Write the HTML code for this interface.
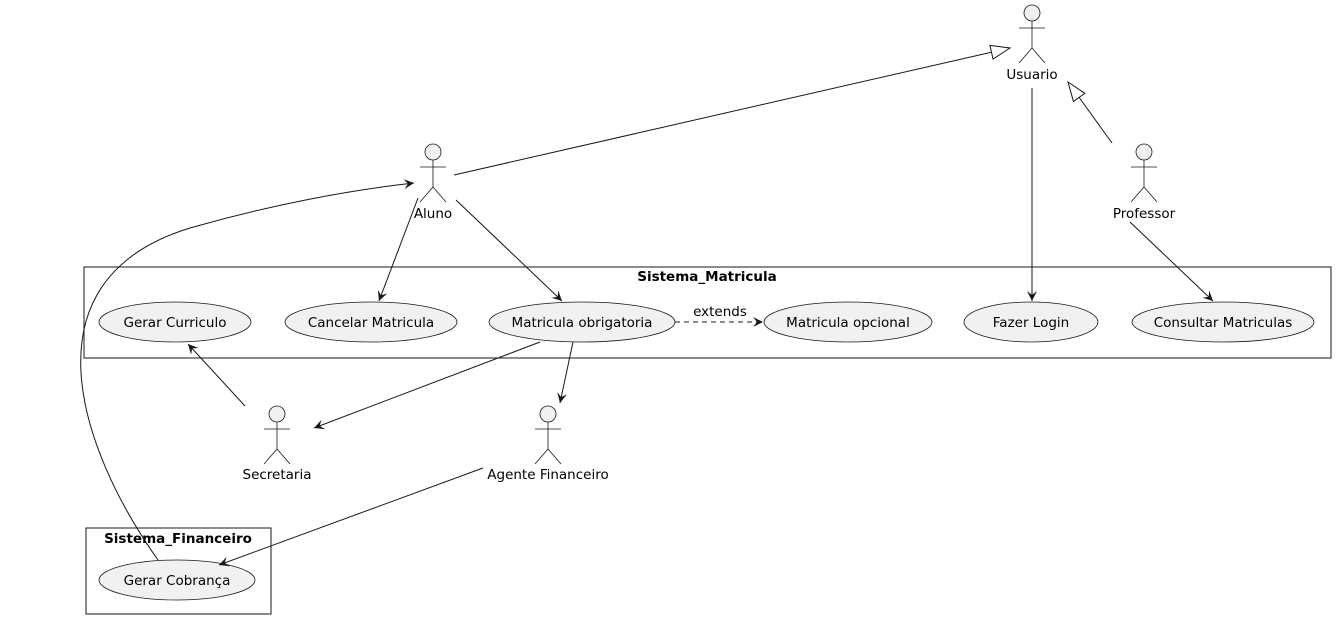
<!DOCTYPE html>
<html><head><meta charset="utf-8"><style>
html,body{margin:0;padding:0;background:#fff;}
svg text{font-family:"DejaVu Sans","Liberation Sans",sans-serif;font-size:13.5px;fill:#000;}
</style></head><body>
<svg width="1336" height="620" viewBox="0 0 1336 620" xmlns="http://www.w3.org/2000/svg">
<defs>
<marker id="a" markerWidth="12" markerHeight="10" refX="10" refY="5" orient="auto" markerUnits="userSpaceOnUse">
<path d="M0,0 L10,5 L0,10 L4,5 Z" fill="#181818"/></marker>
<marker id="g" markerWidth="22" markerHeight="16" refX="20" refY="8" orient="auto" markerUnits="userSpaceOnUse">
<path d="M1,1 L20,8 L1,15 Z" fill="#fff" stroke="#181818"/></marker>
<g id="act" fill="none" stroke="#181818" stroke-width="0.8">
<circle cx="0" cy="8" r="8" fill="#f1f1f1"/>
<line x1="0" y1="16" x2="0" y2="43"/>
<line x1="-13" y1="23" x2="13" y2="23"/>
<line x1="0" y1="43" x2="-13" y2="58"/>
<line x1="0" y1="43" x2="13" y2="58"/>
</g>
</defs>

<rect x="84" y="267" width="1247" height="91" fill="none" stroke="#181818"/>
<text x="707" y="281" text-anchor="middle" font-weight="bold">Sistema_Matricula</text>
<rect x="86" y="528" width="185" height="86" fill="none" stroke="#181818"/>
<text x="178" y="543" text-anchor="middle" font-weight="bold">Sistema_Financeiro</text>

<g fill="#f1f1f1" stroke="#181818" stroke-width="0.8">
<ellipse cx="175" cy="322" rx="76" ry="20"/>
<ellipse cx="371" cy="322" rx="86" ry="20"/>
<ellipse cx="582" cy="322" rx="93" ry="20"/>
<ellipse cx="848" cy="322" rx="84" ry="20"/>
<ellipse cx="1031" cy="322" rx="67" ry="20"/>
<ellipse cx="1223" cy="322" rx="91" ry="20"/>
<ellipse cx="177" cy="580" rx="78" ry="20"/>
</g>
<text x="175" y="327" text-anchor="middle">Gerar Curriculo</text>
<text x="371" y="327" text-anchor="middle">Cancelar Matricula</text>
<text x="582" y="327" text-anchor="middle">Matricula obrigatoria</text>
<text x="848" y="327" text-anchor="middle">Matricula opcional</text>
<text x="1031" y="327" text-anchor="middle">Fazer Login</text>
<text x="1223" y="327" text-anchor="middle">Consultar Matriculas</text>
<text x="177" y="585" text-anchor="middle">Gerar Cobrança</text>

<use href="#act" x="1032" y="5"/>
<text x="1032" y="79" text-anchor="middle">Usuario</text>
<use href="#act" x="433" y="144"/>
<text x="433" y="218" text-anchor="middle">Aluno</text>
<use href="#act" x="1144" y="144"/>
<text x="1144" y="218" text-anchor="middle">Professor</text>
<use href="#act" x="277" y="406"/>
<text x="277" y="479" text-anchor="middle">Secretaria</text>
<use href="#act" x="548" y="406"/>
<text x="548" y="479" text-anchor="middle">Agente Financeiro</text>

<g fill="none" stroke="#181818" stroke-width="1">
<line x1="454" y1="175" x2="1010" y2="48" marker-end="url(#g)"/>
<line x1="1112" y1="143" x2="1068" y2="82" marker-end="url(#g)"/>
<line x1="1032" y1="88" x2="1032" y2="301" marker-end="url(#a)"/>
<line x1="1130" y1="222" x2="1213" y2="301" marker-end="url(#a)"/>
<line x1="418" y1="198" x2="379" y2="301" marker-end="url(#a)"/>
<line x1="456" y1="200" x2="562" y2="301" marker-end="url(#a)"/>
<line x1="675" y1="322" x2="763" y2="322" stroke-dasharray="5,4" marker-end="url(#a)"/>
<line x1="245" y1="406" x2="188" y2="344" marker-end="url(#a)"/>
<line x1="540" y1="342" x2="314" y2="428" marker-end="url(#a)"/>
<line x1="573" y1="342" x2="560" y2="403" marker-end="url(#a)"/>
<line x1="483" y1="468" x2="219" y2="565" marker-end="url(#a)"/>
<path d="M158,560 C80,450 20,280 190,228 C270,205 350,190 414,183" marker-end="url(#a)"/>
</g>
<text x="720" y="316" text-anchor="middle">extends</text>
</svg>
</body></html>
